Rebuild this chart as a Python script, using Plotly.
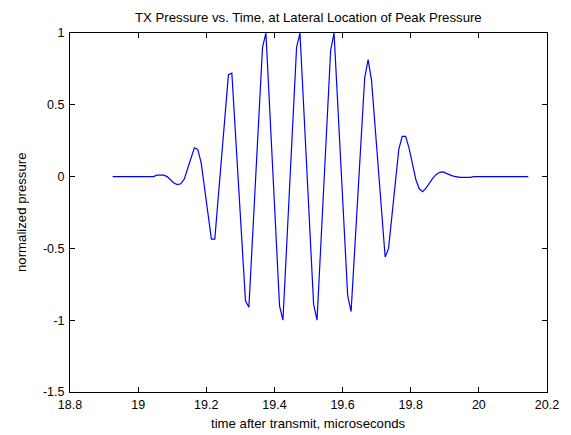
import plotly.graph_objects as go

# Transmit pressure trace at the lateral location of peak pressure
time_us = [
    18.925, 19.045, 19.055, 19.075, 19.085, 19.095, 19.105, 19.115, 19.125,
    19.135, 19.145, 19.155, 19.165, 19.175, 19.185, 19.215, 19.225, 19.265,
    19.275, 19.315, 19.325, 19.365, 19.375, 19.415, 19.425, 19.465, 19.475,
    19.515, 19.525, 19.565, 19.575, 19.615, 19.625, 19.665, 19.675, 19.685,
    19.725, 19.735, 19.765, 19.775, 19.785, 19.795, 19.805, 19.815, 19.825,
    19.835, 19.845, 19.855, 19.865, 19.875, 19.885, 19.895, 19.905, 19.915,
    19.925, 19.935, 19.945, 19.975, 19.985, 20.145,
]
pressure = [
    0.0, 0.0, 0.01, 0.01, 0.0, -0.02, -0.045, -0.055, -0.05,
    -0.02, 0.05, 0.13, 0.2, 0.19, 0.095, -0.435, -0.435, 0.71,
    0.72, -0.865, -0.91, 0.9, 1.0, -0.9, -1.0, 0.9, 1.0,
    -0.89, -1.0, 0.88, 1.0, -0.83, -0.94, 0.69, 0.815, 0.67,
    -0.56, -0.5, 0.19, 0.28, 0.28, 0.2, 0.08, -0.02, -0.085,
    -0.105, -0.08, -0.045, -0.01, 0.015, 0.03, 0.033, 0.025, 0.012,
    0.003, -0.003, -0.005, -0.005, 0.0, 0.0,
]

x_ticks = [18.8, 19.0, 19.2, 19.4, 19.6, 19.8, 20.0, 20.2]
x_tick_text = ["18.8", "19", "19.2", "19.4", "19.6", "19.8", "20", "20.2"]
y_ticks = [-1.5, -1.0, -0.5, 0.0, 0.5, 1.0]
y_tick_text = ["-1.5", "-1", "-0.5", "0", "0.5", "1"]

font_family = "Liberation Sans, Arial, Helvetica, sans-serif"

fig = go.Figure(
    go.Scatter(
        x=time_us,
        y=pressure,
        mode="lines",
        line=dict(color="#0000ff", width=1.2),
        hoverinfo="skip",
    )
)

axis_common = dict(
    showline=True,
    linecolor="black",
    linewidth=1,
    mirror="ticks",
    ticks="inside",
    ticklen=5,
    tickwidth=1,
    tickcolor="black",
    showgrid=False,
    zeroline=False,
    tickfont=dict(family=font_family, size=12.5, color="black"),
)

fig.update_layout(
    width=571,
    height=435,
    margin=dict(l=70, r=24, t=33, b=43),
    paper_bgcolor="white",
    plot_bgcolor="white",
    showlegend=False,
    xaxis=dict(
        range=[18.8, 20.2],
        tickvals=x_ticks,
        ticktext=x_tick_text,
        ticklabelstandoff=1,
        **axis_common,
    ),
    yaxis=dict(
        range=[-1.5, 1.0],
        tickvals=y_ticks,
        ticktext=y_tick_text,
        ticklabelstandoff=2,
        **axis_common,
    ),
    annotations=[
        dict(
            text="TX Pressure vs. Time, at Lateral Location of Peak Pressure",
            x=0.5, y=1, xref="paper", yref="paper",
            xanchor="center", yanchor="bottom", yshift=6,
            showarrow=False,
            font=dict(family=font_family, size=13.2, color="black"),
        ),
        dict(
            text="time after transmit, microseconds",
            x=0.5, y=0, xref="paper", yref="paper",
            xanchor="center", yanchor="top", yshift=-22,
            showarrow=False,
            font=dict(family=font_family, size=13.2, color="black"),
        ),
        dict(
            text="normalized pressure",
            x=0, y=0.5, xref="paper", yref="paper",
            xanchor="right", yanchor="middle", xshift=-39,
            textangle=-90,
            showarrow=False,
            font=dict(family=font_family, size=13.2, color="black"),
        ),
    ],
)

fig.write_html("out.html")
